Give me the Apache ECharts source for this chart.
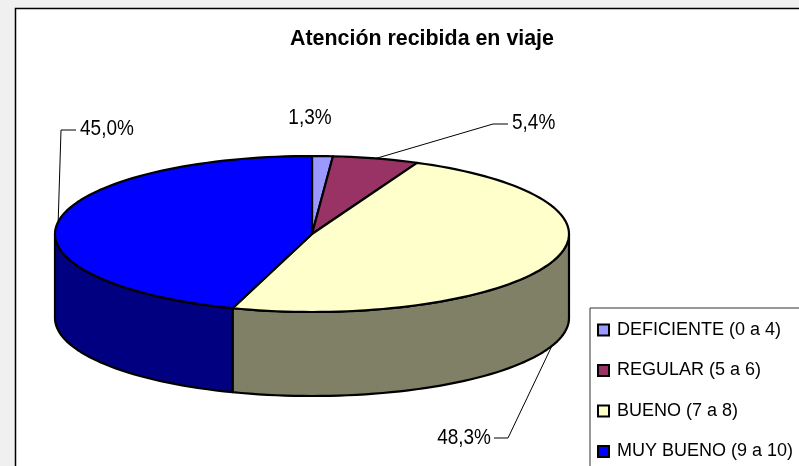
<!DOCTYPE html>
<html>
<head>
<meta charset="utf-8">
<title>Atención recibida en viaje</title>
<script src="https://cdn.jsdelivr.net/npm/echarts@6/dist/echarts.min.js"></script>
<style>
  html, body { margin: 0; padding: 0; background: #f0f0f0; overflow: hidden; }
  #chart { width: 799px; height: 466px; }
</style>
</head>
<body>
<div id="chart"></div>
<script>
// data
var categories = ["DEFICIENTE (0 a 4)", "REGULAR (5 a 6)", "BUENO (7 a 8)", "MUY BUENO (9 a 10)"];
var values = [1.3, 5.4, 48.3, 45.0];

var topColors = ["#9999ff", "#993366", "#ffffcc", "#0000ff"];
var sideColors = ["#4d4d80", "#4d1a33", "#808066", "#000080"];

// text position and leader elbow for each label ([x, y] text anchor, align, elbow, line end)
var labelLayout = [
  { text: [310, 118], align: "center" },
  { text: [512, 123], align: "left", elbow: [493, 124], end: [508, 124] },
  { text: [491, 438], align: "right", elbow: [508, 438], end: [494, 438] },
  { text: [80, 129], align: "left", elbow: [61, 130], end: [76, 130] }
];

// ellipse of the tilted pie
var CX = 312, CY = 234, RX = 257, RY = 78, DEPTH = 84;
var total = values.reduce(function (a, b) { return a + b; }, 0);

function pointAt(deg, drop) {
  var r = deg * Math.PI / 180;
  return [CX + RX * Math.sin(r), CY - RY * Math.cos(r) + (drop || 0)];
}

function arc(a0, a1, drop) {
  var pts = [];
  var n = Math.max(1, Math.ceil((a1 - a0) / 2));
  for (var i = 0; i <= n; i++) {
    pts.push(pointAt(a0 + (a1 - a0) * i / n, drop));
  }
  return pts;
}

function renderSlice(idx) {
  return function (params, api) {
    var v = api.value(0);
    var before = 0;
    for (var i = 0; i < idx; i++) before += values[i];
    var a0 = before / total * 360;
    var a1 = a0 + v / total * 360;
    var mid = (a0 + a1) / 2;
    var children = [];

    // only the front half of the rim is visible
    var s0 = Math.max(a0, 90), s1 = Math.min(a1, 270);
    if (s1 > s0) {
      children.push({
        type: "polygon",
        shape: { points: arc(s0, s1, 0).concat(arc(s0, s1, DEPTH).reverse()) },
        style: { fill: sideColors[idx], stroke: "#000", lineWidth: 2.2, lineJoin: "round" }
      });
    }
    children.push({
      type: "polygon",
      shape: { points: [[CX, CY]].concat(arc(a0, a1, 0)) },
      style: { fill: topColors[idx], stroke: "#000", lineWidth: 2.2, lineJoin: "round" }
    });

    var lay = labelLayout[idx];
    if (lay.elbow) {
      var front = mid > 90 && mid < 270;
      children.push({
        type: "polyline",
        shape: { points: [pointAt(mid, front ? DEPTH : 0), lay.elbow, lay.end] },
        style: { fill: null, stroke: "#000", lineWidth: 1 }
      });
    }
    // the original text is a little stretched in height
    children.push({
      type: "text",
      x: lay.text[0],
      y: lay.text[1],
      scaleY: 1.15,
      style: {
        x: 0,
        y: 0,
        text: v.toFixed(1).replace(".", ",") + "%",
        align: lay.align,
        verticalAlign: "middle",
        fill: "#000",
        font: "19px 'Liberation Sans', Arial, sans-serif"
      }
    });
    return { type: "group", children: children };
  };
}

var series = categories.map(function (name, i) {
  return {
    name: name,
    type: "custom",
    coordinateSystem: "none",
    silent: true,
    animation: false,
    itemStyle: { color: topColors[i] },
    renderItem: renderSlice(i),
    data: [[values[i]]]
  };
});

var chart = echarts.init(document.getElementById("chart"), null, { renderer: "canvas" });
chart.setOption({
  animation: false,
  backgroundColor: "#f0f0f0",
  graphic: [
    {
      type: "rect",
      z: -1,
      shape: { x: 15.5, y: 8.5, width: 900, height: 600 },
      style: { fill: "#fff", stroke: "#000", lineWidth: 1.5 }
    }
  ],
  title: {
    text: "Atención recibida en viaje",
    left: 417,
    top: 24,
    textAlign: "center",
    textStyle: {
      fontFamily: "Liberation Sans",
      fontSize: 21.4,
      fontWeight: "bold",
      color: "#000"
    }
  },
  legend: {
    orient: "vertical",
    left: 590,
    top: 308,
    height: 240,
    padding: [13, 30, 30, 7],
    itemGap: 22.5,
    itemWidth: 11,
    itemHeight: 11,
    icon: "rect",
    backgroundColor: "#fff",
    borderColor: "#333",
    borderWidth: 1,
    itemStyle: { borderColor: "#000", borderWidth: 2 },
    textStyle: { fontFamily: "Liberation Sans", fontSize: 18, color: "#000", padding: [0, 0, 2, 3] },
    data: categories
  },
  series: series
});
</script>
</body>
</html>
